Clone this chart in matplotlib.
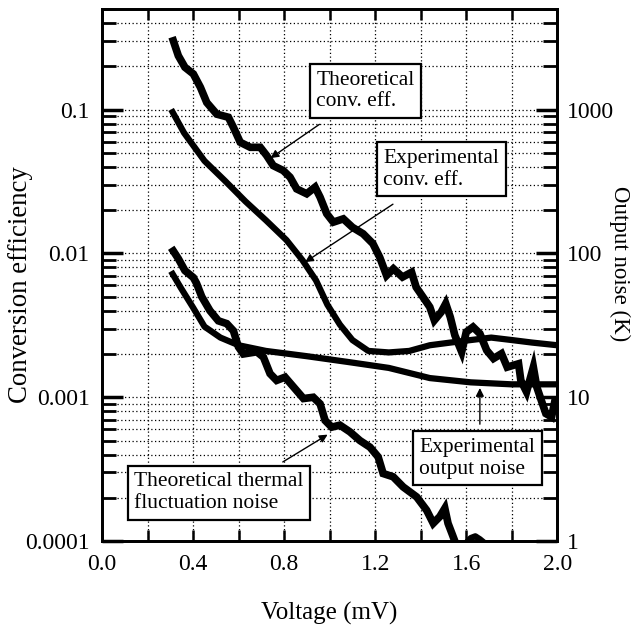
import numpy as np
import matplotlib
matplotlib.use('Agg')
from matplotlib import pyplot as plt
from matplotlib.ticker import FixedLocator, NullFormatter

plt.rcParams['font.family'] = ['Liberation Serif', 'DejaVu Serif']

# voltage (mV) and conversion efficiency
theo_eff_v = [0.313, 0.335, 0.364, 0.401, 0.432, 0.46, 0.504, 0.555, 0.577, 0.607, 0.651, 0.695,
              0.723, 0.752, 0.796, 0.826, 0.855, 0.899, 0.936, 0.958, 0.987, 1.016, 1.06, 1.10,
              1.147, 1.19, 1.22, 1.25, 1.28, 1.32, 1.36, 1.38, 1.42, 1.44, 1.46, 1.49, 1.51,
              1.53, 1.55, 1.58, 1.60, 1.63, 1.66, 1.69, 1.72, 1.755, 1.78, 1.83, 1.84, 1.865,
              1.895, 1.91, 1.93, 1.95, 1.975, 1.99]
theo_eff = [0.301, 0.237, 0.197, 0.177, 0.143, 0.112, 0.093, 0.0885, 0.0754, 0.0593, 0.0547, 0.0547,
            0.048, 0.0408, 0.0377, 0.0339, 0.0281, 0.026, 0.0289, 0.0246, 0.0189, 0.0165, 0.0174,
            0.0152, 0.0137, 0.0117, 0.0094, 0.00703, 0.00783, 0.00685, 0.0074, 0.00583, 0.00472,
            0.00424, 0.00343, 0.00391, 0.00448, 0.00361, 0.0027, 0.00207, 0.00284, 0.00308,
            0.00277, 0.00212, 0.00186, 0.00201, 0.00162, 0.00171, 0.00131, 0.00109, 0.00162,
            0.00118, 0.00095, 0.00077, 0.00073, 0.00095]

exp_eff_v = [0.31, 0.36, 0.45, 0.54, 0.63, 0.72, 0.81, 0.88, 0.94, 0.99, 1.045, 1.10, 1.17,
             1.26, 1.35, 1.44, 1.53, 1.62, 1.71, 1.80, 1.89, 2.0]
exp_eff = [0.096, 0.069, 0.044, 0.032, 0.023, 0.017, 0.0124, 0.009, 0.0065, 0.0044, 0.0032,
           0.0025, 0.0021, 0.00205, 0.0021, 0.0023, 0.0024, 0.0025, 0.0026, 0.0025, 0.0024, 0.0023]

# voltage (mV) and output noise (K)
exp_noise_v = [0.31, 0.345, 0.40, 0.45, 0.52, 0.60, 0.72, 0.90, 1.08, 1.26, 1.44, 1.62, 1.80, 2.0]
exp_noise = [72, 58, 42, 31, 26, 23, 21, 19.3, 17.6, 16, 13.6, 12.7, 12.3, 12.3]

theo_noise_v = [0.313, 0.335, 0.364, 0.401, 0.415, 0.438, 0.474, 0.511, 0.548, 0.577, 0.599,
                0.621, 0.68, 0.709, 0.738, 0.767, 0.804, 0.841, 0.885, 0.928, 0.958, 0.98,
                1.009, 1.045, 1.089, 1.133, 1.177, 1.213, 1.235, 1.279, 1.323, 1.382, 1.426,
                1.455, 1.484, 1.506, 1.52, 1.54, 1.555]
theo_noise = [104, 92, 76, 68, 62, 50, 40, 34, 32.5, 29, 22.4, 20, 20.7, 19, 14.6, 13.1, 13.8,
              11.8, 9.8, 10.0, 9.0, 6.9, 6.2, 6.4, 5.75, 5.0, 4.5, 3.85, 2.95, 2.8, 2.38, 2.03,
              1.64, 1.33, 1.48, 1.69, 1.33, 1.10, 0.95]
theo_noise_tail_v = [1.60, 1.62, 1.64, 1.66, 1.68]
theo_noise_tail = [0.97, 1.05, 1.08, 1.03, 0.97]

fig = plt.figure(figsize=(6.42, 6.27), dpi=100)
ax = fig.add_axes([0.159, 0.137, 0.709, 0.8485])
ax2 = ax.twinx()

ax.set_xlim(0, 2.0)
ax.set_yscale('log')
ax.set_ylim(1e-4, 0.5)
ax2.set_yscale('log')
ax2.set_ylim(1, 5000)

ax.plot(theo_eff_v, theo_eff, color='black', lw=5.5, solid_joinstyle='miter')
ax.plot(exp_eff_v, exp_eff, color='black', lw=4.5)
ax2.plot(exp_noise_v, exp_noise, color='black', lw=4.5)
ax2.plot(theo_noise_v, theo_noise, color='black', lw=5.5, solid_joinstyle='miter')
ax2.plot(theo_noise_tail_v, theo_noise_tail, color='black', lw=4.5)

# ticks
ax.xaxis.set_major_locator(FixedLocator([0.0, 0.4, 0.8, 1.2, 1.6, 2.0]))
ax.xaxis.set_minor_locator(FixedLocator([0.2, 0.6, 1.0, 1.4, 1.8]))
ax.set_xticklabels(['0.0', '0.4', '0.8', '1.2', '1.6', '2.0'])
ax.set_yticks([1e-4, 1e-3, 1e-2, 1e-1])
ax.set_yticklabels(['0.0001', '0.001', '0.01', '0.1'])
ax.yaxis.set_minor_formatter(NullFormatter())
ax2.set_yticks([1, 10, 100, 1000])
ax2.set_yticklabels(['1', '10', '100', '1000'])
ax2.yaxis.set_minor_formatter(NullFormatter())

ax.tick_params(axis='x', which='both', direction='in', top=True, length=8, width=1.8,
               labelsize=17, pad=9)
ax.tick_params(axis='y', which='major', direction='in', length=15, width=2.5, labelsize=17, pad=9)
ax.tick_params(axis='y', which='minor', direction='in', length=10, width=2)
ax2.tick_params(axis='y', which='major', direction='in', length=15, width=2.5, labelsize=17, pad=7)
ax2.tick_params(axis='y', which='minor', direction='in', length=10, width=2)

ax.grid(True, which='both', axis='both', linestyle=(0, (1, 2)), color='black', lw=0.9)
for a in (ax, ax2):
    for s in a.spines.values():
        s.set_linewidth(2)

ax.set_ylabel('Conversion efficiency', fontsize=19.3)
ax.yaxis.set_label_coords(-0.152, 0.483)
ax2.set_ylabel('Output noise (K)', fontsize=16.5, rotation=270)
ax2.yaxis.set_label_coords(1.161, 0.522)
ax.set_xlabel('Voltage (mV)', fontsize=18, labelpad=20)

box = dict(boxstyle='square,pad=0.3', fc='white', ec='black', lw=1.6)
ax.text(0.471, 0.846, 'Theoretical\nconv. eff.', transform=ax.transAxes, fontsize=15.5,
        ha='left', va='center', bbox=box, zorder=5)
ax.text(0.618, 0.699, 'Experimental\nconv. eff.', transform=ax.transAxes, fontsize=15.5,
        ha='left', va='center', bbox=box, zorder=5)
ax.text(0.071, 0.091, 'Theoretical thermal\nfluctuation noise', transform=ax.transAxes,
        fontsize=15.5, ha='left', va='center', bbox=box, zorder=5)
ax.text(0.697, 0.156, 'Experimental\noutput noise', transform=ax.transAxes, fontsize=15.5,
        ha='left', va='center', bbox=box, zorder=5)

arrow = dict(arrowstyle='-|>', color='black', lw=1, mutation_scale=12, shrinkA=0, shrinkB=0)
ax.annotate('', xy=(0.74, 0.046), xytext=(0.955, 0.079), arrowprops=arrow)
ax.annotate('', xy=(0.892, 0.0087), xytext=(1.278, 0.022), arrowprops=arrow)
ax.annotate('', xy=(0.991, 0.00055), xytext=(0.794, 0.000355), arrowprops=arrow)
ax.annotate('', xy=(1.66, 0.00116), xytext=(1.66, 0.00065), arrowprops=arrow)

fig.savefig('out.png', dpi=100)
